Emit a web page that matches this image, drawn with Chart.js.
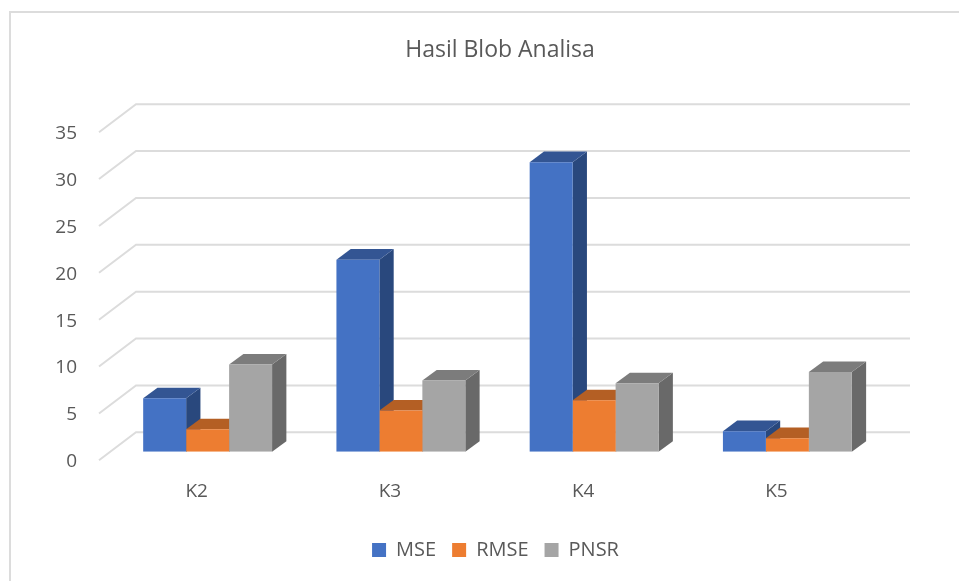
<!DOCTYPE html>
<html>
<head>
<meta charset="utf-8">
<title>Hasil Blob Analisa</title>
<script src="https://cdn.jsdelivr.net/npm/chart.js@4"></script>
<style>
    html, body { margin: 0; padding: 0; background: #fff; }
    #frame { position: absolute; left: 9px; top: 11px; width: 950px; height: 570px; border-left: 2px solid #dcdcdc; border-top: 2px solid #dcdcdc; box-sizing: border-box; }
    #wrap { position: absolute; left: 0; top: 0; width: 959px; height: 581px; }
</style>
</head>
<body>
<div id="frame"></div>
<div id="wrap"><canvas id="myChart"></canvas></div>
<script>
var categories = ["K2", "K3", "K4", "K5"];
var mseValues = [5.7, 20.5, 30.9, 2.2];
var rmseValues = [2.4, 4.4, 5.5, 1.45];
var pnsrValues = [9.3, 7.6, 7.3, 8.5];

// front, top and side colour for each series
var shades = [
    { front: "#4472C4", top: "#335593", side: "#29487D" },
    { front: "#ED7D31", top: "#B45F24", side: "#A0541F" },
    { front: "#A5A5A5", top: "#7C7C7C", side: "#696969" },
];

var fontName = "'Open Sans', sans-serif";
var textColor = "#595959";

// draws the back wall and the depth of each bar, the front faces come from Chart.js
var depthPlugin = {
    id: "depth",
    afterLayout: function (chart) {
        // legend sits a little left of the plot centre
        chart.legend.left -= 2;
        chart.legend.right -= 2;
    },
    beforeDatasetsDraw: function (chart) {
        var ctx = chart.ctx;
        var area = chart.chartArea;
        var yScale = chart.scales.y;

        ctx.save();
        ctx.strokeStyle = "#dcdcdc";
        ctx.lineWidth = 2;
        yScale.ticks.forEach(function (tick) {
            var y = yScale.getPixelForValue(tick.value);
            ctx.beginPath();
            ctx.moveTo(area.left - 12, y + 8.5);
            ctx.lineTo(area.left + 25, y - 19.5);
            ctx.lineTo(area.right + 26, y - 19.5);
            ctx.stroke();
        });

        var dx = 14.3;
        var dy = 10.6;
        chart.data.datasets.forEach(function (ds, i) {
            chart.getDatasetMeta(i).data.forEach(function (bar) {
                var left = bar.x - bar.width / 2;
                var right = bar.x + bar.width / 2;
                ctx.fillStyle = shades[i].side;
                ctx.beginPath();
                ctx.moveTo(right, bar.y);
                ctx.lineTo(right + dx, bar.y - dy);
                ctx.lineTo(right + dx, bar.base - dy);
                ctx.lineTo(right, bar.base);
                ctx.closePath();
                ctx.fill();
                ctx.fillStyle = shades[i].top;
                ctx.beginPath();
                ctx.moveTo(left, bar.y);
                ctx.lineTo(left + dx, bar.y - dy);
                ctx.lineTo(right + dx, bar.y - dy);
                ctx.lineTo(right, bar.y);
                ctx.closePath();
                ctx.fill();
            });
        });
        ctx.restore();
    },
};

new Chart("myChart", {
    type: "bar",
    plugins: [depthPlugin],
    data: {
        labels: categories,
        datasets: [
            { label: "MSE", data: mseValues, backgroundColor: shades[0].front },
            { label: "RMSE", data: rmseValues, backgroundColor: shades[1].front },
            { label: "PNSR", data: pnsrValues, backgroundColor: shades[2].front },
        ],
    },
    options: {
        responsive: true,
        maintainAspectRatio: false,
        animation: false,
        layout: {
            padding: { left: 41, right: 0, top: 0, bottom: 11 },
        },
        datasets: {
            bar: { categoryPercentage: 0.667, barPercentage: 1 },
        },
        scales: {
            x: {
                grid: { display: false },
                border: { display: false },
                ticks: {
                    color: textColor,
                    font: { family: fontName, size: 19 },
                    padding: 20.5,
                    labelOffset: -11,
                },
                afterFit: function (scale) {
                    scale.height = 72.2;
                },
            },
            y: {
                min: 0,
                max: 35,
                grid: { display: false },
                border: { display: false },
                ticks: {
                    stepSize: 5,
                    color: textColor,
                    font: { family: fontName, size: 19 },
                    padding: 26,
                    labelOffset: 10,
                },
                afterFit: function (scale) {
                    scale.width = 70;
                },
            },
            // empty axis, only keeps the plot clear of the right edge
            spacer: {
                position: "right",
                grid: { display: false },
                border: { display: false },
                ticks: { display: false },
                afterFit: function (scale) {
                    scale.width = 75;
                },
            },
        },
        plugins: {
            title: {
                display: true,
                text: "Hasil Blob Analisa",
                color: textColor,
                font: { family: fontName, size: 23, weight: "normal", lineHeight: 1 },
                padding: { top: 39, bottom: 61.7 },
            },
            legend: {
                position: "bottom",
                fullSize: false,
                labels: {
                    color: textColor,
                    font: { family: fontName, size: 20 },
                    boxWidth: 14,
                    boxHeight: 14,
                    padding: 16,
                },
            },
            tooltip: { enabled: false },
        },
    },
});
</script>
</body>
</html>
